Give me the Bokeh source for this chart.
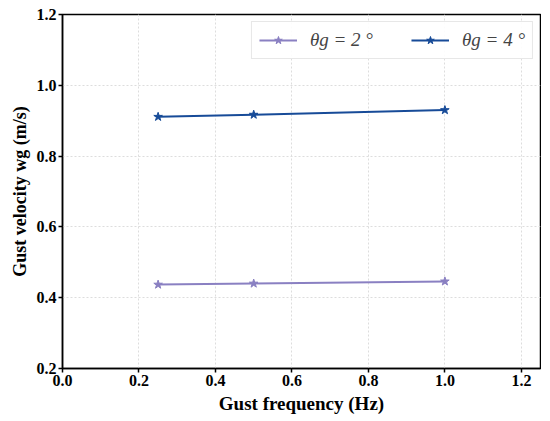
from bokeh.plotting import figure
from bokeh.models import Range1d, Legend, LegendItem, FixedTicker, PrintfTickFormatter
from bokeh.embed import file_html
from bokeh.resources import INLINE

freq = [0.25, 0.5, 1.0]
w_theta2 = [0.437, 0.440, 0.446]
w_theta4 = [0.911, 0.917, 0.930]
labels = ["θg = 2 °", "θg = 4 °"]
x_ticks = [0.0, 0.2, 0.4, 0.6, 0.8, 1.0, 1.2]
y_ticks = [0.2, 0.4, 0.6, 0.8, 1.0, 1.2]

c2 = "#8a80c2"
c4 = "#174b98"
FONT = "Liberation Serif"

p = figure(frame_width=478, frame_height=354, output_backend="svg", toolbar_location=None,
           x_range=Range1d(0, 1.25), y_range=Range1d(0.2, 1.2),
           min_border_left=62, min_border_right=1, min_border_top=14, min_border_bottom=44)

l2 = p.line(freq, w_theta2, color=c2, line_width=2)
s2 = p.scatter(freq, w_theta2, marker="star", size=9, color=c2)
l4 = p.line(freq, w_theta4, color=c4, line_width=2)
s4 = p.scatter(freq, w_theta4, marker="star", size=9, color=c4)

legend = Legend(items=[LegendItem(label=labels[0], renderers=[l2, s2]),
                       LegendItem(label=labels[1], renderers=[l4, s4])],
                location="top_right", orientation="horizontal")
legend.label_text_font = FONT
legend.label_text_font_style = "italic"
legend.label_text_font_size = "19px"
legend.border_line_color = "#d0d0d0"
legend.border_line_width = 1
legend.background_fill_alpha = 0.9
legend.glyph_width = 38
legend.spacing = 38
legend.padding = 7
legend.margin = 7
legend.label_standoff = 13
p.add_layout(legend)

for ax in (p.xaxis[0], p.yaxis[0]):
    ax.major_label_text_font = FONT
    ax.major_label_text_font_style = "bold"
    ax.major_label_text_font_size = "16px"
    ax.major_label_text_color = "black"
    ax.axis_label_text_font = FONT
    ax.axis_label_text_font_style = "bold"
    ax.axis_label_text_font_size = "18px"
    ax.axis_label_text_color = "black"
    ax.axis_line_color = "black"
    ax.axis_line_width = 1.5
    ax.major_tick_line_color = "black"
    ax.major_tick_line_width = 1.5
    ax.major_tick_out = 4
    ax.major_tick_in = 0
    ax.minor_tick_line_color = None
    ax.major_label_standoff = 2
    ax.axis_label_standoff = 4
    ax.formatter = PrintfTickFormatter(format="%.1f")

p.xaxis[0].ticker = FixedTicker(ticks=x_ticks)
p.yaxis[0].ticker = FixedTicker(ticks=y_ticks)
p.xaxis[0].axis_label = "Gust frequency (Hz)"
p.xaxis[0].axis_label_text_font_size = "19px"
p.yaxis[0].axis_label = "Gust velocity wg (m/s)"

p.xgrid.ticker = FixedTicker(ticks=x_ticks)
p.ygrid.ticker = FixedTicker(ticks=y_ticks)
for g in (p.xgrid[0], p.ygrid[0]):
    g.grid_line_color = "#dddddd"
    g.grid_line_dash = "2 2"
    g.grid_line_width = 1

p.outline_line_color = "black"
p.outline_line_width = 1.5
p.background_fill_color = "white"
p.border_fill_color = "white"

open("out.html", "w").write(file_html(p, INLINE))
